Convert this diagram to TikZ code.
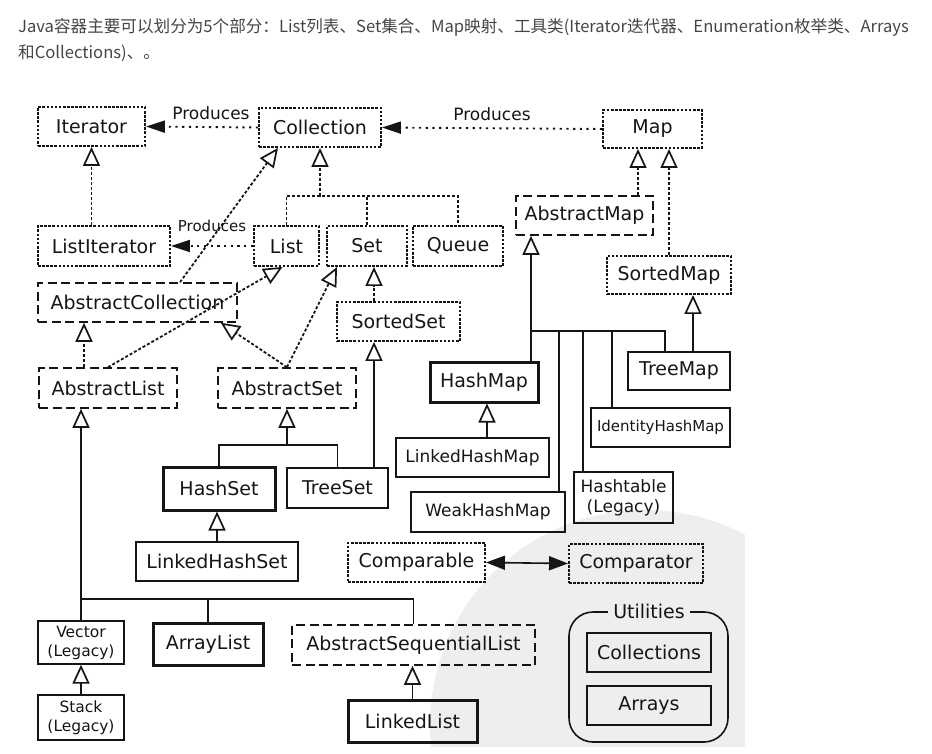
\documentclass[tikz,border=0pt]{standalone}
\usepackage{fontspec}
\usepackage{tikz}
\usetikzlibrary{arrows.meta,calc}
\newfontfamily\dsans{DejaVu Sans}
\newfontfamily\cjk{Noto Sans CJK SC}
\definecolor{ink}  {HTML}{151515}
\definecolor{hdr}  {HTML}{454545}
\definecolor{wmark}{HTML}{EEEEEE}
\newcommand\boxfont{\dsans\fontsize{19}{21}\selectfont}
\newcommand\midboxfont{\dsans\fontsize{17}{20}\selectfont}
\newcommand\tinyboxfont{\dsans\fontsize{15.5}{19}\selectfont}
\tikzset{
  % --- nodes
  cls/.style   = {draw=ink, line width=1.4pt, inner sep=0pt, align=center,
                  text=ink, font=\boxfont},
  iface/.style = {cls, dash pattern=on 2.6pt off 1.5pt, line width=1.9pt},
  absc/.style  = {cls, dash pattern=on 9pt off 4.5pt, line width=1.6pt},
  heavy/.style = {cls, line width=3pt},
  bx/.style 2 args = {minimum width=#1pt, minimum height=#2pt},
  plbl/.style  = {font=\dsans\fontsize{17}{19}\selectfont, text=ink, inner sep=0pt},
  hdrtxt/.style= {font=\cjk\fontsize{16.6}{26}\selectfont, text=hdr, inner sep=0pt},
  % --- edges
  ilink/.style = {draw=ink, dash pattern=on 3pt off 2pt, line width=1.8pt},
  plink/.style = {draw=ink, dash pattern=on 2.2pt off 4.5pt, line width=1.9pt},
  clink/.style = {draw=ink, line width=1.6pt},
  inh/.style   = {-{Triangle[open, width=17pt, length=19pt, line width=1.7pt]}},
  prod/.style  = {-{Triangle[width=12pt, length=19pt]}},
  both/.style  = {{Triangle[width=14pt, length=19pt]}-{Triangle[width=14pt, length=19pt]}},
}

\begin{document}
\begin{tikzpicture}[x=1pt, y=-1pt]
  \useasboundingbox (0,0) rectangle (932,754);
  % watermark behind the lower right part
  \begin{scope}
    \clip (18,90) rectangle (745,746);
    \fill[wmark] (645,725) circle (215pt);
  \end{scope}

  \node[hdrtxt, anchor=base west] (intro1) at (18,33)
    {Java容器主要可以划分为5个部分：List列表、Set集合、Map映射、工具类(Iterator迭代器、Enumeration枚举类、Arrays};
  \node[hdrtxt, anchor=base west] (intro2) at (18,59) {和Collections)、。};

  % --- interfaces
  \node[iface, bx={107}{39}] (it)    at (91.5,126.5) {Iterator};
  \node[iface, bx={122}{39}] (coll)  at (320,127.5)  {Collection};
  \node[iface, bx={99}{38}]  (map)   at (652.5,129)  {Map};
  \node[iface, bx={132}{40}] (lit)   at (104,246)    {ListIterator};
  \node[iface, bx={65}{40}]  (list)  at (286.5,246)  {List};
  \node[iface, bx={80}{40}]  (set)   at (367,246)    {Set};
  \node[iface, bx={90}{40}]  (queue) at (458,246)    {Queue};
  \node[iface, bx={124}{38}] (smap)  at (669,275)    {SortedMap};
  \node[iface, bx={123}{39}] (sset)  at (398.5,321.5){SortedSet};
  \node[iface, bx={137}{39}] (cmpb)  at (416.5,562.5){Comparable};
  \node[iface, bx={134}{39}] (cmpt)  at (636,563.5)  {Comparator};
  % --- abstract classes
  \node[absc, bx={137}{39}] (amap)  at (584.5,215.5) {AbstractMap};
  \node[absc, bx={199}{39}] (acoll) at (137.5,302.5) {AbstractCollection};
  \node[absc, bx={138}{40}] (alist) at (108,388)     {AbstractList};
  \node[absc, bx={138}{40}] (aset)  at (287,388)     {AbstractSet};
  \node[absc, bx={243}{40}] (asl)   at (413.5,645)   {AbstractSequentialList};
  % --- classes
  \node[heavy, bx={108}{40}] (hmap)  at (484,382)    {HashMap};
  \node[cls, bx={102}{38}]   (tmap)  at (679,371)    {TreeMap};
  \node[cls, bx={139}{39}, font=\dsans\fontsize{15}{18}\selectfont]
                             (ihm)   at (660.5,427.5){IdentityHashMap};
  \node[cls, bx={153}{39}, font=\midboxfont] (lhmap) at (472.5,457.5) {LinkedHashMap};
  \node[heavy, bx={112}{43}] (hset)  at (219,488.5)  {HashSet};
  \node[cls, bx={101}{40}]   (tset)  at (337.5,488)  {TreeSet};
  \node[cls, bx={99}{51}, font=\midboxfont] (htab) at (623.5,497.5) {Hashtable\\(Legacy)};
  \node[cls, bx={154}{40}, font=\midboxfont] (whm)  at (488,512)    {WeakHashMap};
  \node[cls, bx={162}{39}]   (lhset) at (217,561.5)  {LinkedHashSet};
  \node[cls, bx={86}{43}, font=\tinyboxfont] (vec)   at (81,642.5) {Vector\\(Legacy)};
  \node[cls, bx={86}{45}, font=\tinyboxfont] (stack) at (81,717.5) {Stack\\(Legacy)};
  \node[heavy, bx={110}{42}] (alst)  at (208,644)    {ArrayList};
  \node[heavy, bx={129}{42}] (llist) at (412.5,721)  {LinkedList};
  % --- utilities
  \node[cls, line width=1.6pt, rounded corners=24pt, bx={159}{130}] (util) at (648.5,677) {};
  \node[cls, bx={124}{39}] (colls)  at (649,652.5) {Collections};
  \node[cls, bx={124}{39}] (arrays) at (649,705.5) {Arrays};
  \node[plbl, font=\boxfont, fill=wmark, inner xsep=5pt] (utillbl) at (649,611) {Utilities};

  % --- produces
  \draw[plink, prod] (coll.west) -- node[plbl, pos=0.42, above=6pt] (prod1) {Produces} (it.east);
  \draw[plink, prod] (map.west) -- node[plbl, pos=0.5, above=7pt] (prod2) {Produces} (coll.east);
  \draw[plink, prod] (list.west) -- node[plbl, font=\dsans\fontsize{15}{17}\selectfont, above=13pt] (prod3) {Produces} (lit.east);

  % --- interface inheritance
  \coordinate (cbus) at (320,196);
  \draw[ilink, inh] (it.south |- lit.north) -- (it.south);
  \draw[ilink, inh] (cbus) -- (coll.south);
  \draw[ilink] (list.north) |- (cbus) -| (queue.north);
  \draw[ilink] (set.north) -- (set.north |- cbus);
  \draw[ilink, inh] ([xshift=42.5pt]acoll.north) -- ([xshift=-42pt]coll.south);
  \draw[ilink, inh] (alist.north) -- ([xshift=-4pt]list.south);
  \draw[ilink, inh] ([xshift=-24pt]alist.north) -- ([xshift=-24pt]alist.north |- acoll.south);
  \draw[ilink, inh] (aset.north) -- ([xshift=11pt]set.south west);
  \draw[ilink, inh] (aset.north) -- ([xshift=-17pt]acoll.south east);
  \coordinate (ssx) at ([xshift=-24.5pt]sset.north);
  \draw[ilink, inh] (ssx) -- (ssx |- set.south);
  \coordinate (amx) at ([xshift=53.5pt]amap.north);
  \draw[ilink, inh] (amx) -- (amx |- map.south);
  \draw[ilink, inh] (smap.north) -- (smap.north |- map.south);

  % --- class inheritance
  \draw[clink, inh] (ssx |- tset.north) -- (ssx |- sset.south);
  \coordinate (sbus) at (287,445);
  \draw[clink, inh] (sbus) -- (aset.south);
  \draw[clink] (hset.north) |- (sbus) -| (tset.north);
  \draw[clink, inh] (lhset.north) -- (lhset.north |- hset.south);
  \coordinate (lbus) at (81,599);
  \draw[clink, inh] (vec.north) -- (vec.north |- alist.south);
  \draw[clink] (vec.north |- lbus) -| (asl.north);
  \draw[clink] (alst.north) -- (alst.north |- lbus);
  \draw[clink, inh] (stack.north) -- (vec.south);
  \draw[clink, inh] (llist.north) -- (llist.north |- asl.south);
  \coordinate (tmx) at ([xshift=14pt]tmap.north);
  \draw[clink, inh] (tmx) -- (tmx |- smap.south);
  \coordinate (mbus) at (531,331);
  \draw[clink, inh] (mbus) -- (mbus |- amap.south);
  \draw[clink] (mbus |- hmap.north) -- (mbus) -| ([xshift=-14pt]tmap.north);
  \draw[clink] ([xshift=71pt]whm.north) -- ([xshift=71pt]whm.north |- mbus);
  \draw[clink] ([xshift=-40.5pt]htab.north) -- ([xshift=-40.5pt]htab.north |- mbus);
  \draw[clink] ([xshift=-48.5pt]ihm.north) -- ([xshift=-48.5pt]ihm.north |- mbus);
  \draw[clink, inh] ([xshift=3pt]hmap.south |- lhmap.north) -- ([xshift=3pt]hmap.south);

  % --- comparable / comparator
  \draw[clink, both] (cmpb.east) -- (cmpt.west);
\end{tikzpicture}
\end{document}
